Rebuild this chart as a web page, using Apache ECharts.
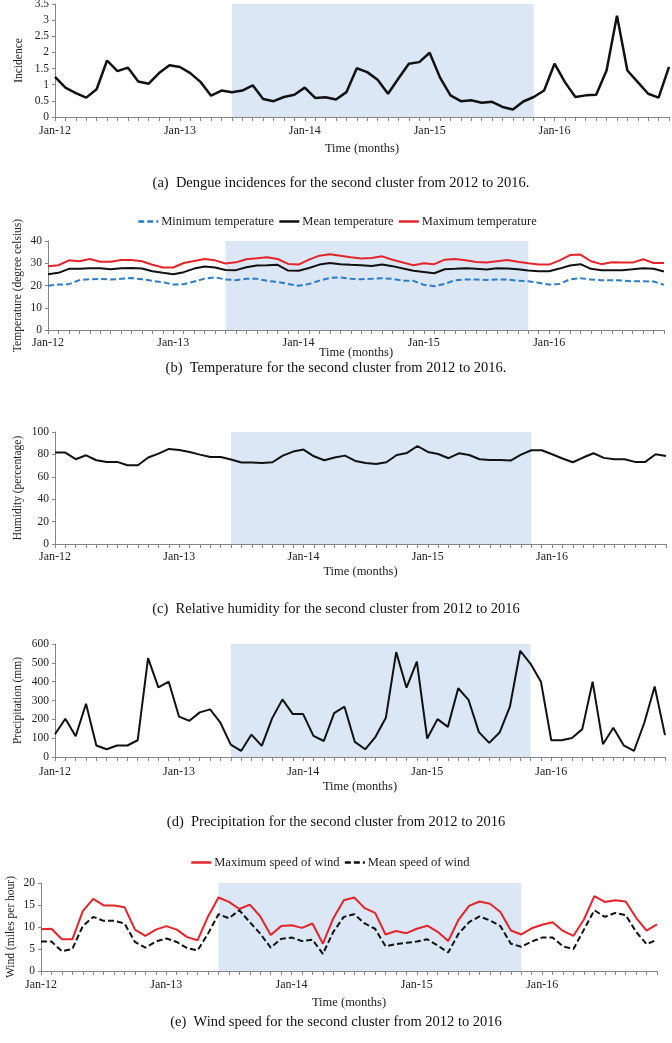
<!DOCTYPE html>
<html>
<head>
<meta charset="utf-8">
<script src="https://cdn.jsdelivr.net/npm/echarts@6/dist/echarts.min.js"></script>
<style>
  html, body { margin: 0; padding: 0; background: #fff; }
  #main { width: 672px; height: 1043px; }
</style>
</head>
<body>
<div id="main"></div>
<script>
// months Jan-12 .. Dec-16
var monthNames = ['Jan', 'Feb', 'Mar', 'Apr', 'May', 'Jun', 'Jul', 'Aug', 'Sep', 'Oct', 'Nov', 'Dec'];
var years = ['12', '13', '14', '15', '16'];
var categories = [];
years.forEach(function (y) {
    monthNames.forEach(function (m) { categories.push(m + '-' + y); });
});

// shaded period
var shadeFrom = 'Jun-13';
var shadeTo = 'Nov-15';

var incidence = [1.24, 0.91, 0.74, 0.60, 0.86, 1.75, 1.42, 1.53, 1.10, 1.03, 1.36, 1.60,
    1.55, 1.36, 1.08, 0.66, 0.82, 0.77, 0.82, 0.98, 0.56, 0.49, 0.62, 0.69,
    0.91, 0.59, 0.61, 0.54, 0.77, 1.51, 1.39, 1.15, 0.72, 1.19, 1.65, 1.70,
    1.99, 1.22, 0.67, 0.49, 0.52, 0.44, 0.47, 0.31, 0.23, 0.48, 0.62, 0.82,
    1.65, 1.08, 0.62, 0.67, 0.69, 1.44, 3.14, 1.44, 1.08, 0.72, 0.60, 1.55];

var tempMin = [19.9, 20.4, 20.6, 22.4, 22.8, 23.0, 22.7, 23.0, 23.4, 22.8, 22.1, 21.5,
    20.4, 20.6, 21.8, 23.1, 23.7, 22.7, 22.4, 23.0, 23.0, 22.1, 21.6, 20.7,
    19.9, 20.7, 22.2, 23.4, 23.6, 23.0, 22.8, 23.0, 23.3, 23.0, 22.1, 22.1,
    20.3, 19.7, 20.7, 22.4, 22.7, 22.7, 22.5, 22.7, 22.7, 22.1, 21.9, 21.2,
    20.4, 20.7, 22.8, 23.3, 22.7, 22.4, 22.4, 22.2, 21.9, 21.9, 21.8, 20.3];

var tempMean = [25.1, 25.7, 27.5, 27.5, 27.8, 27.8, 27.3, 27.8, 27.9, 27.6, 26.4, 25.7,
    25.1, 26.0, 27.6, 28.5, 28.1, 27.0, 26.9, 28.2, 29.0, 29.1, 29.3, 26.7,
    26.6, 27.9, 29.4, 30.1, 29.6, 29.3, 29.1, 28.8, 29.4, 28.7, 27.6, 26.6,
    26.1, 25.5, 27.3, 27.5, 27.8, 27.5, 27.2, 27.8, 27.6, 27.3, 26.7, 26.4,
    26.4, 27.6, 29.0, 29.6, 27.5, 26.9, 26.9, 26.9, 27.3, 27.8, 27.5, 26.3];

var tempMax = [28.7, 29.1, 31.3, 30.9, 31.9, 30.7, 30.7, 31.5, 31.5, 30.9, 29.3, 28.1,
    28.1, 30.1, 31.0, 31.9, 31.3, 29.9, 30.4, 31.8, 32.2, 32.7, 31.9, 29.7,
    29.4, 31.6, 33.4, 34.0, 33.4, 32.7, 32.1, 32.4, 33.1, 31.6, 30.3, 29.1,
    30.0, 29.6, 31.6, 31.9, 31.3, 30.6, 30.3, 30.9, 31.5, 30.7, 30.0, 29.4,
    29.4, 31.3, 33.7, 33.9, 30.9, 29.6, 30.4, 30.3, 30.3, 31.8, 30.1, 30.1];

var humidity = [81.6, 81.6, 75.7, 79.2, 74.8, 73.3, 73.3, 70.3, 70.3, 77.2, 80.7, 84.9,
    84.0, 82.2, 79.8, 77.7, 77.7, 75.4, 72.7, 72.7, 72.4, 73.0, 78.9, 82.5,
    84.3, 78.3, 74.8, 77.2, 78.9, 74.2, 72.4, 71.5, 73.0, 79.5, 81.3, 87.5,
    82.2, 80.4, 76.6, 81.0, 79.5, 75.7, 75.1, 75.1, 74.5, 79.8, 83.7, 83.7,
    80.1, 76.3, 73.0, 77.2, 81.0, 76.9, 75.7, 75.7, 73.3, 73.3, 80.1, 78.6];

var precipitation = [121, 203, 110, 283, 61, 41, 61, 61, 89, 525, 370, 400,
    214, 192, 237, 253, 182, 66, 32, 119, 59, 205, 306, 228,
    228, 112, 85, 233, 267, 80, 41, 107, 208, 557, 368, 507,
    98, 201, 160, 365, 303, 132, 75, 130, 267, 564, 495, 400,
    89, 89, 101, 148, 400, 68, 155, 62, 32, 182, 374, 116];

var windMax = [9.5, 9.6, 7.2, 7.2, 13.6, 16.4, 14.9, 14.9, 14.5, 9.4, 8.0, 9.4,
    10.2, 9.4, 7.7, 7.0, 12.4, 16.7, 15.7, 14.1, 15.1, 12.4, 8.2, 10.2,
    10.4, 9.8, 10.8, 6.2, 12.0, 16.1, 16.7, 14.3, 13.2, 8.3, 9.1, 8.6,
    9.6, 10.3, 8.9, 6.8, 11.7, 14.8, 15.8, 15.3, 13.4, 9.2, 8.3, 9.7,
    10.5, 11.1, 9.1, 8.0, 11.7, 17.0, 15.7, 16.1, 15.8, 12.1, 9.2, 10.6];

var windMean = [6.7, 6.7, 4.5, 5.0, 10.2, 12.3, 11.4, 11.4, 10.8, 6.6, 5.3, 6.7,
    7.4, 6.6, 5.2, 4.7, 8.5, 12.9, 12.0, 13.8, 11.1, 8.5, 5.3, 7.3,
    7.6, 6.8, 7.1, 3.9, 8.9, 12.3, 12.9, 10.8, 9.6, 5.6, 6.1, 6.4,
    6.7, 7.2, 5.8, 4.2, 8.5, 11.1, 12.4, 11.5, 10.2, 6.2, 5.5, 6.7,
    7.6, 7.6, 5.6, 5.0, 9.4, 13.8, 12.3, 13.2, 12.7, 8.9, 6.1, 7.1];

var captions = [
    '(a)  Dengue incidences for the second cluster from 2012 to 2016.',
    '(b)  Temperature for the second cluster from 2012 to 2016.',
    '(c)  Relative humidity for the second cluster from 2012 to 2016',
    '(d)  Precipitation for the second cluster from 2012 to 2016',
    '(e)  Wind speed for the second cluster from 2012 to 2016'
];

var serif = '"Liberation Serif", "DejaVu Serif", serif';
var axisGray = '#858585';
var shadeColor = '#dce7f5';
var red = '#e3242b';
var blue = '#2e7cc4';

var grids = [
    { left: 55, top: 4, width: 614, height: 113 },
    { left: 48, top: 241, width: 616, height: 89 },
    { left: 55, top: 432, width: 611, height: 112 },
    { left: 55, top: 644, width: 610, height: 113 },
    { left: 41, top: 883, width: 616, height: 88 }
];

var yAxes = [
    { name: 'Incidence', max: 3.5, interval: 0.5, gap: 30 },
    { name: 'Temperature (degree celsius)', max: 40, interval: 10, gap: 24 },
    { name: 'Humidity (percentage)', max: 100, interval: 20, gap: 31 },
    { name: 'Precipitation (mm)', max: 600, interval: 100, gap: 31 },
    { name: 'Wind (miles per hour)', max: 20, interval: 5, gap: 24 }
];
var xNameGaps = [25, 16, 21, 23, 25];
var xLabelMargins = [8, 7, 7, 9, 8];
var captionY = [183, 368, 609, 822, 1022];

var myChart = echarts.init(document.getElementById('main'));

var xAxis = grids.map(function (g, i) {
    return {
        type: 'category',
        gridIndex: i,
        data: categories,
        boundaryGap: false,
        name: 'Time (months)',
        nameLocation: 'middle',
        nameGap: xNameGaps[i],
        nameMoveOverlap: false,
        nameTextStyle: { fontFamily: serif, fontSize: 12.5, color: '#222' },
        axisLine: { lineStyle: { color: axisGray, width: 1 } },
        axisTick: { interval: 0, length: 4, lineStyle: { color: axisGray } },
        axisLabel: { interval: 11, margin: xLabelMargins[i], fontFamily: serif, fontSize: 12, color: '#222' },
        splitLine: { show: false }
    };
});

var yAxis = yAxes.map(function (y, i) {
    return {
        type: 'value',
        gridIndex: i,
        min: 0,
        max: y.max,
        interval: y.interval,
        name: y.name,
        nameLocation: 'middle',
        nameGap: y.gap,
        nameMoveOverlap: false,
        nameTextStyle: { fontFamily: serif, fontSize: 11.5, color: '#222' },
        axisLine: { show: true, lineStyle: { color: axisGray, width: 1 } },
        axisTick: { show: true, length: 3, lineStyle: { color: axisGray } },
        axisLabel: { margin: 6, fontFamily: serif, fontSize: 11.5, color: '#222' },
        splitLine: { show: false }
    };
});

function shade() {
    return {
        silent: true,
        itemStyle: { color: shadeColor },
        data: [[{ xAxis: shadeFrom }, { xAxis: shadeTo }]]
    };
}

function line(name, data, idx, color, width, dashed, withShade) {
    var s = {
        name: name,
        type: 'line',
        xAxisIndex: idx,
        yAxisIndex: idx,
        data: data,
        symbol: 'none',
        smooth: false,
        lineStyle: { color: color, width: width, type: dashed ? [6, 3] : 'solid' },
        itemStyle: { color: color }
    };
    if (withShade) s.markArea = shade();
    return s;
}

var series = [
    line('Incidence', incidence, 0, '#111', 2.5, false, true),
    line('Minimum temperature', tempMin, 1, blue, 2, true, true),
    line('Mean temperature', tempMean, 1, '#111', 2, false, false),
    line('Maximum temperature', tempMax, 1, red, 2, false, false),
    line('Humidity', humidity, 2, '#111', 2, false, true),
    line('Precipitation', precipitation, 3, '#111', 2, false, true),
    line('Maximum speed of wind', windMax, 4, red, 2, false, true),
    line('Mean speed of wind', windMean, 4, '#111', 2, true, false)
];

// legend: keep the line stroke, hide the symbol dot
var legendStyle = {
    padding: 0,
    itemWidth: 20,
    itemHeight: 10,
    itemGap: 4,
    itemStyle: { opacity: 0 },
    lineStyle: { width: 2.5 },
    textStyle: { fontFamily: serif, fontSize: 12.5, color: '#222', padding: [0, 0, 0, -2] }
};

var option = {
    animation: false,
    backgroundColor: '#fff',
    grid: grids.map(function (g) { return Object.assign({ outerBoundsMode: 'none' }, g); }),
    xAxis: xAxis,
    yAxis: yAxis,
    legend: [
        Object.assign({
            data: ['Minimum temperature', 'Mean temperature', 'Maximum temperature'],
            left: 137, top: 215
        }, legendStyle),
        Object.assign({
            data: ['Maximum speed of wind', 'Mean speed of wind'],
            left: 190, top: 856
        }, legendStyle)
    ],
    graphic: captions.map(function (c, i) {
        return {
            type: 'text',
            x: i === 0 ? 341 : 336,
            y: captionY[i],
            style: {
                text: c,
                font: '14.5px ' + serif,
                fill: '#111',
                textAlign: 'center',
                textVerticalAlign: 'middle'
            }
        };
    }),
    series: series
};

myChart.setOption(option);
</script>
</body>
</html>
